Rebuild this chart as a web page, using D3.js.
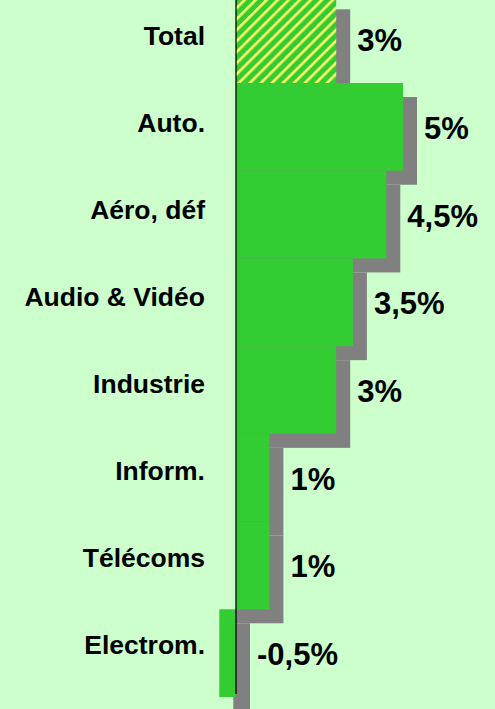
<!DOCTYPE html>
<html lang="fr">
<head>
    <meta charset="UTF-8">
    <script src="https://d3js.org/d3.v7.min.js"></script>
    <style>
        html, body {
            margin: 0;
            padding: 0;
            background: #ccffcc;
            font-family: Arial, "Liberation Sans", sans-serif;
        }
        .cat {
            font-size: 26.5px;
            font-weight: bold;
            fill: black;
        }
        .val {
            font-size: 31px;
            font-weight: bold;
            fill: black;
        }
    </style>
</head>
<body>
    <div id="chart"></div>

    <script>
        // données
        const categories = ["Total", "Auto.", "Aéro, déf", "Audio & Vidéo", "Industrie", "Inform.", "Télécoms", "Electrom."];
        const values = [3, 5, 4.5, 3.5, 3, 1, 1, -0.5];
        const valueLabels = ["3%", "5%", "4,5%", "3,5%", "3%", "1%", "1%", "-0,5%"];

        const data = categories.map((c, i) => ({cat: c, v: values[i], label: valueLabels[i], total: i === 0}));

        const W = 495, H = 709;
        const shadow = 14;

        const svg = d3.select("#chart")
            .append("svg")
            .attr("width", W)
            .attr("height", H)
            .style("display", "block");

        svg.append("rect").attr("width", W).attr("height", H).attr("fill", "#ccffcc");

        const defs = svg.append("defs");
        const pat = defs.append("pattern")
            .attr("id", "hatch")
            .attr("patternUnits", "userSpaceOnUse")
            .attr("width", 7.8)
            .attr("height", 7.8)
            .attr("patternTransform", "rotate(45)");
        pat.append("rect").attr("width", 7.8).attr("height", 7.8).attr("fill", "#33cc33");
        pat.append("rect").attr("x", 0).attr("width", 2.6).attr("height", 7.8).attr("fill", "#ffff66");

        const x = d3.scaleLinear()
            .domain([-0.5, 5])
            .range([219.3, 403]);

        const y = d3.scaleBand()
            .domain(categories)
            .range([-4.7, 697])
            .padding(0);

        // les étiquettes ont un pas un peu plus serré que les barres
        const yLab = d3.scaleBand()
            .domain(categories)
            .range([1, 697.5]);

        const g = svg.append("g");

        // ombres
        g.selectAll(".shadow")
            .data(data)
            .enter()
            .append("rect")
            .attr("class", "shadow")
            .attr("x", d => d.v >= 0 ? x(0) : x(d.v) + shadow)
            .attr("y", d => y(d.cat) + shadow)
            .attr("width", d => d.v >= 0 ? x(d.v) + shadow - x(0) : x(0) - x(d.v))
            .attr("height", y.bandwidth())
            .attr("fill", "#808080");

        // barres
        g.selectAll(".bar")
            .data(data)
            .enter()
            .append("rect")
            .attr("class", "bar")
            .attr("x", d => x(Math.min(0, d.v)))
            .attr("y", d => y(d.cat))
            .attr("width", d => Math.abs(x(d.v) - x(0)))
            .attr("height", y.bandwidth())
            .attr("fill", d => d.total ? "url(#hatch)" : "#33cc33");

        // axe vertical
        svg.append("line")
            .attr("x1", x(0))
            .attr("x2", x(0))
            .attr("y1", 0)
            .attr("y2", y.range()[1] - 3)
            .attr("stroke", "black")
            .attr("stroke-width", 1.3);

        // étiquettes des catégories
        svg.selectAll(".cat")
            .data(data)
            .enter()
            .append("text")
            .attr("class", "cat")
            .attr("x", 205)
            .attr("y", d => yLab(d.cat) + yLab.bandwidth() / 2)
            .attr("text-anchor", "end")
            .text(d => d.cat);

        // étiquettes des valeurs
        svg.selectAll(".val")
            .data(data)
            .enter()
            .append("text")
            .attr("class", "val")
            .attr("x", d => x(Math.max(0, d.v)) + 21)
            .attr("y", d => y(d.cat) + y.bandwidth() / 2 + 12)
            .text(d => d.label);
    </script>
</body>
</html>
